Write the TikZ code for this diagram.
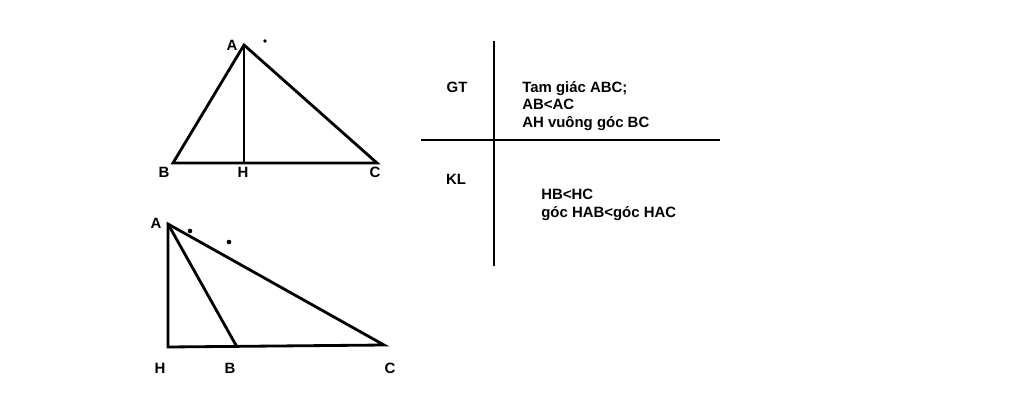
\documentclass[tikz,border=0pt]{standalone}
\usepackage{fontspec}
\setmainfont{Liberation Sans}
\usetikzlibrary{positioning}
\tikzset{
  seg/.style={line width=1.6pt},
  lbl/.style={font=\bfseries\fontsize{8.5}{10}\selectfont, inner sep=0pt},
  txt/.style={font=\bfseries\fontsize{8.5}{10}\selectfont, align=left, anchor=north west, inner sep=0pt}
}
\begin{document}
\begin{tikzpicture}[x=0.02cm,y=-0.02cm]
\useasboundingbox (0,0) rectangle (1024,419);

% first triangle
\coordinate (A1) at (244,45);
\coordinate (B1) at (173,163);
\coordinate (C1) at (377,163);
\coordinate (H1) at (244,163);
\draw [seg] (A1) -- (B1) -- (C1) -- cycle;
\draw [seg] (A1) -- (H1);
\fill (265,41) circle (1pt);

\node [lbl] at (232,45) {A};
\node [lbl] at (164,172) {B};
\node [lbl] at (243,172) {H};
\node [lbl] at (375,172) {C};

% second triangle
\coordinate (A2) at (168,224);
\coordinate (H2) at (168,347);
\coordinate (B2) at (237,347);
\coordinate (C2) at (384,345);
\draw [seg] (A2) -- (H2) -- (C2) -- cycle;
\draw [seg] (A2) -- (B2);
\fill (190,231) circle (1.3pt);
\fill (229,242) circle (1.3pt);

\node [lbl] at (156,223) {A};
\node [lbl] at (160,368) {H};
\node [lbl] at (230,368) {B};
\node [lbl] at (390,368) {C};

% GT / KL table
\coordinate (vt) at (494,41);
\coordinate (vb) at (494,266);
\coordinate (hl) at (421,140);
\coordinate (hr) at (720,140);
\draw [seg] (vt) -- (vb);
\draw [seg] (hl) -- (hr);

\node [lbl] (gt) at (457,87) {GT};
\node [lbl] (kl) at (456,179) {KL};
\node [txt] (gtt) at (522,81) {Tam giác ABC;\\AB<AC\\AH vuông góc BC};
\node [txt] (klt) at (541,189) {HB<HC\\góc HAB<góc HAC};
\end{tikzpicture}
\end{document}
